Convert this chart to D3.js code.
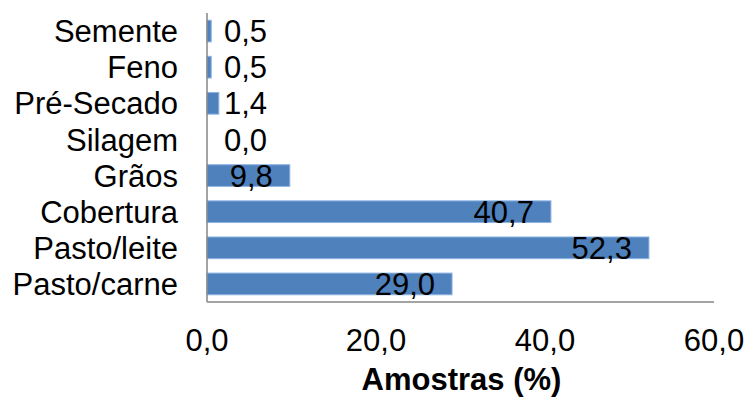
<!DOCTYPE html>
<html>
<head>
<meta charset="utf-8">
<script src="https://d3js.org/d3.v7.min.js"></script>
<style>
  body { margin: 0; background: #fff; }
  text { font-family: "Liberation Sans", Arial, sans-serif; fill: #000; }
</style>
</head>
<body>
<svg id="chart" width="748" height="400"></svg>
<script>
// data, top to bottom
var categories = ["Semente", "Feno", "Pré-Secado", "Silagem", "Grãos", "Cobertura", "Pasto/leite", "Pasto/carne"];
var values = [0.5, 0.5, 1.4, 0.0, 9.8, 40.7, 52.3, 29.0];
var xTicks = [0, 20, 40, 60];
var xTitle = "Amostras (%)";

var svg = d3.select("#chart");
var plotLeft = 207, plotRight = 714, plotTop = 13, plotBottom = 302;

var fmt = function(v) { return d3.format(".1f")(v).replace(".", ","); };

var x = d3.scaleLinear().domain([0, 60]).range([plotLeft, plotRight]);
var y = d3.scaleBand().domain(categories).range([plotTop, plotBottom]).paddingInner(0.4).paddingOuter(0.2);

var rows = categories.map(function(c, i) { return {cat: c, val: values[i]}; });

// bars
svg.selectAll(".bar")
  .data(rows)
  .enter().append("rect")
    .attr("class", "bar")
    .attr("x", x(0))
    .attr("y", function(d) { return y(d.cat); })
    .attr("width", function(d) { return x(d.val) - x(0); })
    .attr("height", y.bandwidth())
    .attr("fill", "#4f81bd")
    .attr("stroke", function(d) { return d.val > 0 ? "#8db3e2" : "none"; })
    .attr("stroke-width", 1);

// axis lines (no tick marks)
svg.append("line")
  .attr("x1", plotLeft).attr("x2", plotLeft)
  .attr("y1", plotTop).attr("y2", plotBottom)
  .attr("stroke", "#868686").attr("stroke-width", 1.5);
svg.append("line")
  .attr("x1", plotLeft).attr("x2", plotRight)
  .attr("y1", plotBottom).attr("y2", plotBottom)
  .attr("stroke", "#868686").attr("stroke-width", 1.5);

// category labels
svg.selectAll(".cat")
  .data(categories)
  .enter().append("text")
    .attr("class", "cat")
    .attr("x", 178)
    .attr("y", function(d) { return y(d) + y.bandwidth() / 2; })
    .attr("dy", "0.36em")
    .attr("text-anchor", "end")
    .attr("font-size", 31)
    .text(function(d) { return d; });

// value labels, inside end; pushed out when the bar is too short
svg.selectAll(".val")
  .data(rows)
  .enter().append("text")
    .attr("class", "val")
    .attr("x", function(d) { return Math.max(x(d.val) - 17, 267); })
    .attr("y", function(d) { return y(d.cat) + y.bandwidth() / 2; })
    .attr("dy", "0.36em")
    .attr("text-anchor", "end")
    .attr("font-size", 31)
    .text(function(d) { return fmt(d.val); });

// x tick labels
svg.selectAll(".tick")
  .data(xTicks)
  .enter().append("text")
    .attr("class", "tick")
    .attr("x", function(d) { return x(d); })
    .attr("y", 351)
    .attr("text-anchor", "middle")
    .attr("font-size", 31)
    .text(function(d) { return fmt(d); });

// axis title
svg.append("text")
  .attr("x", (plotLeft + plotRight) / 2 + 1)
  .attr("y", 390)
  .attr("text-anchor", "middle")
  .attr("font-size", 31)
  .attr("font-weight", "bold")
  .text(xTitle);
</script>
</body>
</html>
